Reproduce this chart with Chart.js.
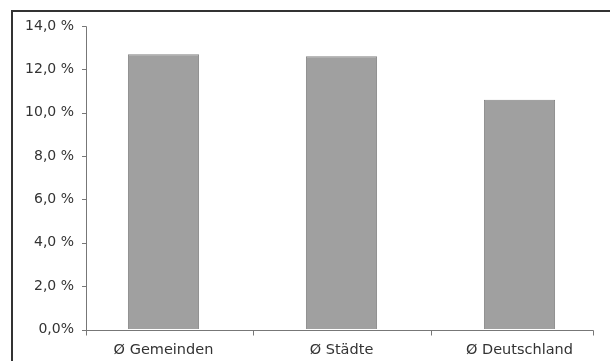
<!DOCTYPE html>
<html>
<head>
<meta charset="utf-8">
<script src="https://cdn.jsdelivr.net/npm/chart.js@4/dist/chart.umd.min.js"></script>
<style>
html,body{margin:0;padding:0;background:#fff;}
#wrap{width:610px;height:361px;}
</style>
</head>
<body>
<div id="wrap"><canvas id="c" width="610" height="361"></canvas></div>
<script>
const categories = ['Ø Gemeinden', 'Ø Städte', 'Ø Deutschland'];
const values = [12.7, 12.6, 10.6];
const yTicks = [0, 2, 4, 6, 8, 10, 12, 14];

const AXIS_X = 86, AXIS_END = 593;

const frame = {
  id: 'frame',
  beforeDraw(chart) {
    const ctx = chart.ctx;
    ctx.save();
    ctx.fillStyle = '#fff';
    ctx.fillRect(0, 0, chart.width, chart.height);
    ctx.strokeStyle = '#333';
    ctx.lineWidth = 2;
    ctx.beginPath();
    ctx.moveTo(12, 361);
    ctx.lineTo(12, 11);
    ctx.lineTo(610, 11);
    ctx.stroke();
    ctx.restore();
  },
  afterDraw(chart) {
    const ctx = chart.ctx;
    const ys = chart.scales.y, xs = chart.scales.x;
    const y0 = Math.round(ys.getPixelForValue(0)) + 0.5;
    ctx.save();
    ctx.strokeStyle = '#777';
    ctx.lineWidth = 1;
    ctx.beginPath();
    // y axis
    ctx.moveTo(AXIS_X + 0.5, Math.round(ys.getPixelForValue(14)) + 0.5);
    ctx.lineTo(AXIS_X + 0.5, y0);
    yTicks.forEach(v => {
      const p = Math.round(ys.getPixelForValue(v)) + 0.5;
      ctx.moveTo(AXIS_X - 4, p);
      ctx.lineTo(AXIS_X + 0.5, p);
    });
    // x axis
    ctx.moveTo(AXIS_X, y0);
    ctx.lineTo(AXIS_END + 0.5, y0);
    const tx = [AXIS_X];
    for (let i = 0; i < categories.length - 1; i++) {
      tx.push((xs.getPixelForValue(i) + xs.getPixelForValue(i + 1)) / 2);
    }
    tx.push(AXIS_END);
    tx.forEach(x => {
      const px = Math.round(x) + 0.5;
      ctx.moveTo(px, y0);
      ctx.lineTo(px, y0 + 5);
    });
    ctx.stroke();
    ctx.restore();
  }
};

const fontY = { family: '"DejaVu Sans", sans-serif', size: 14 };
const fontX = { family: '"DejaVu Sans", sans-serif', size: 14.5 };

new Chart(document.getElementById('c'), {
  type: 'bar',
  data: {
    labels: categories,
    datasets: [{
      data: values,
      backgroundColor: '#a0a0a0',
      borderColor: '#858585',
      borderWidth: 1,
      barPercentage: 0.4,
      categoryPercentage: 1
    }]
  },
  options: {
    responsive: false,
    animation: false,
    devicePixelRatio: 1,
    layout: { padding: { left: 0, right: 1.5, top: 26, bottom: 0 } },
    plugins: { legend: { display: false }, tooltip: { enabled: false } },
    scales: {
      x: {
        grid: { display: true, drawOnChartArea: false, drawTicks: true, tickLength: 5, color: 'rgba(0,0,0,0)' },
        border: { display: false },
        ticks: { color: '#333', font: fontX, padding: 7, maxRotation: 0 },
        afterFit(s) { s.height = 31.5; }
      },
      y: {
        min: 0, max: 14,
        afterBuildTicks(s) { s.ticks = yTicks.map(v => ({ value: v })); },
        grid: { display: true, drawOnChartArea: false, drawTicks: true, tickLength: 0, color: 'rgba(0,0,0,0)' },
        border: { display: false },
        ticks: {
          color: '#333', font: fontY, padding: 0.5,
          callback(v) { return v === 0 ? '0,0%' : v.toFixed(1).replace('.', ',') + ' %'; }
        },
        afterFit(s) { s.width = 74.5; }
      }
    }
  },
  plugins: [frame]
});
</script>
</body>
</html>
